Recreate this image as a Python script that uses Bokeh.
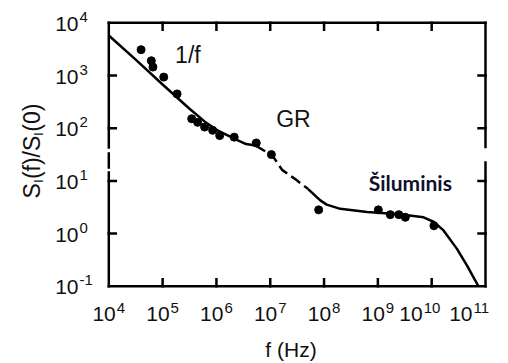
import math
from bokeh.plotting import figure
from bokeh.models import Range1d
from bokeh.embed import file_html
from bokeh.resources import INLINE
from bokeh.core.properties import value

# ---------------- data ----------------
dots_f = [3.98e4, 6.17e4, 6.61e4, 1.05e5, 1.86e5, 3.47e5, 4.47e5, 6.03e5, 8.51e5,
          1.15e6, 2.14e6, 5.5e6, 1.05e7, 7.94e7, 1.02e9, 1.70e9, 2.45e9, 3.24e9, 1.10e10]
dots_s = [3090, 1905, 1445, 933, 447, 151, 129, 105, 91.2,
          72.4, 67.6, 52.5, 31.6, 2.82, 2.82, 2.29, 2.29, 2.04, 1.41]

curve1_f = [1e4, 3.16e4, 1e5, 3.16e5, 6.31e5, 1e6, 1.58e6, 2.51e6, 3.55e6, 5.37e6]
curve1_s = [5750, 1995, 676, 234, 129, 93.3, 74.1, 58.9, 50.1, 46.8]

dashed_f = [5.37e6, 1.10e7, 1.66e7, 2.95e7, 5.01e7]
dashed_s = [46.8, 30.2, 16.2, 10.7, 7.08]

curve2_f = [5.01e7, 8.51e7, 1.12e8, 2.0e8, 6.31e8, 2.51e9, 7.08e9, 1.10e10,
            1.66e10, 2.95e10, 4.57e10, 7.41e10]
curve2_s = [7.08, 4.27, 3.55, 2.95, 2.57, 2.34, 2.04, 1.66,
            1.15, 0.513, 0.245, 0.1]

x_exps = [4, 5, 6, 7, 8, 9, 10, 11]
y_exps = [-1, 0, 1, 2, 3, 4]

notes = ["1/f", "GR", "Šiluminis"]
notes_f = [2.95e5, 2.7e7, 4.0e9]
notes_s = [2500, 150, 9.3]

x_title = "f (Hz)"
y_title_parts = ["S", "I", "(f)/S", "I", "(0)"]

# ---------------- layout ----------------
W, H = 508, 363
XMIN, XMAX, YMIN, YMAX = 4, 11, -1, 4
BOX_L, BOX_R, BOX_T, BOX_B = 108.3, 485.0, 22.3, 285.8
PXX = (BOX_R - BOX_L) / (XMAX - XMIN)
PXY = (BOX_B - BOX_T) / (YMAX - YMIN)
LX0 = XMIN - BOX_L / PXX
LX1 = XMAX + (W - BOX_R) / PXX
LY0 = YMIN - (H - BOX_B) / PXY
LY1 = YMAX + BOX_T / PXY

def fx(px):   # screen x -> data value
    return 10 ** (XMIN + (px - BOX_L) / PXX)

def fy(py):   # screen y -> data value
    return 10 ** (YMAX - (py - BOX_T) / PXY)

p = figure(width=W, height=H, x_axis_type="log", y_axis_type="log",
           x_range=Range1d(10 ** LX0, 10 ** LX1),
           y_range=Range1d(10 ** LY0, 10 ** LY1),
           output_backend="svg", toolbar_location=None,
           min_border=0, min_border_left=0, min_border_right=0,
           min_border_top=0, min_border_bottom=0)
p.axis.visible = False
p.grid.visible = False
p.outline_line_color = None
p.background_fill_color = "white"
p.border_fill_color = "white"

FONT = value("Liberation Sans")
TXT = "#111111"
LW = 2.5
tx = 7 / PXX
ty = 7 / PXY

# frame (with the axis breaks)
x0s, y0s, x1s, y1s = [], [], [], []
def seg(a, b, c, d):
    x0s.append(a); y0s.append(b); x1s.append(c); y1s.append(d)

seg(10 ** XMIN, 10 ** YMIN, 10 ** XMAX, 10 ** YMIN)
seg(10 ** XMIN, 10 ** YMAX, 10 ** XMAX, 10 ** YMAX)
seg(10 ** XMIN, 10 ** YMAX, 10 ** XMIN, fy(147))
seg(10 ** XMIN, fy(153), 10 ** XMIN, fy(167))
seg(10 ** XMIN, fy(172), 10 ** XMIN, 10 ** YMIN)
seg(10 ** XMAX, 10 ** YMAX, 10 ** XMAX, fy(146.5))
seg(10 ** XMAX, fy(162), 10 ** XMAX, 10 ** YMIN)
for e in x_exps[1:-1]:
    seg(10 ** e, 10 ** YMIN, 10 ** e, 10 ** (YMIN + ty))
    seg(10 ** e, 10 ** YMAX, 10 ** e, 10 ** (YMAX - ty))
for e in y_exps[1:-1]:
    seg(10 ** XMIN, 10 ** e, 10 ** (XMIN + tx), 10 ** e)
    seg(10 ** XMAX, 10 ** e, 10 ** (XMAX - tx), 10 ** e)
p.segment(x0s, y0s, x1s, y1s, line_color="black", line_width=LW, line_cap="square")

# curves and points
p.line(curve1_f, curve1_s, line_color="black", line_width=LW)
p.line(dashed_f, dashed_s, line_color="black", line_width=LW, line_dash="11 5")
p.line(curve2_f, curve2_s, line_color="black", line_width=LW)
p.scatter(dots_f, dots_s, size=8, color="black")

# annotations inside the plot
p.text(notes_f[:2], notes_s[:2], text=notes[:2], text_font=FONT,
       text_font_size="23px", text_align="center", text_baseline="middle",
       text_color=TXT)
p.text(notes_f[2:], notes_s[2:], text=notes[2:], text_font=value("Lato"),
       text_font_style="bold", text_font_size="21px", text_align="center",
       text_baseline="middle", text_color="#101030")

# x tick labels
xl_x, xl_y, xl_t, xe_x, xe_y, xe_t = [], [], [], [], [], []
for e in x_exps:
    dx = 7 if e < 10 else (-9 if e == 10 else -13)
    xl_x.append(10 ** (e + dx / PXX)); xl_y.append(fy(313.5)); xl_t.append("10")
    xe_x.append(10 ** (e + (dx + 1) / PXX)); xe_y.append(fy(307)); xe_t.append(str(e))
p.text(xl_x, xl_y, text=xl_t, text_align="right", text_baseline="middle",
       text_font=FONT, text_font_size="21px", text_color=TXT)
p.text(xe_x, xe_y, text=xe_t, text_align="left", text_baseline="middle",
       text_font=FONT, text_font_size="15px", text_color=TXT)

# y tick labels
yl_x, yl_y, yl_t, ye_x, ye_y, ye_t = [], [], [], [], [], []
for e in y_exps:
    yl_x.append(fx(78)); yl_y.append(10 ** (e - 1 / PXY)); yl_t.append("10")
    ye_x.append(fx(79)); ye_y.append(10 ** (e + 6 / PXY)); ye_t.append(str(e))
p.text(yl_x, yl_y, text=yl_t, text_align="right", text_baseline="middle",
       text_font=FONT, text_font_size="21px", text_color=TXT)
p.text(ye_x, ye_y, text=ye_t, text_align="left", text_baseline="middle",
       text_font=FONT, text_font_size="15px", text_color=TXT)

# axis titles
p.text([fx(290.5)], [fy(348.5)], text=[x_title], text_align="center",
       text_baseline="middle", text_font=FONT, text_font_size="21px", text_color=TXT)

y_title_start = [198, 182.3, 178.6, 135.2, 131.2]     # screen y where each piece begins
y_title_sub = [False, True, False, True, False]
for txt, start, sub in zip(y_title_parts, y_title_start, y_title_sub):
    p.text([fx(38 if sub else 31)], [fy(start)], text=[txt], angle=math.pi / 2,
           text_align="left", text_baseline="alphabetic", text_font=FONT,
           text_font_size=("12px" if sub else "23px"), text_color=TXT)

open("out.html", "w").write(file_html(p, INLINE))
